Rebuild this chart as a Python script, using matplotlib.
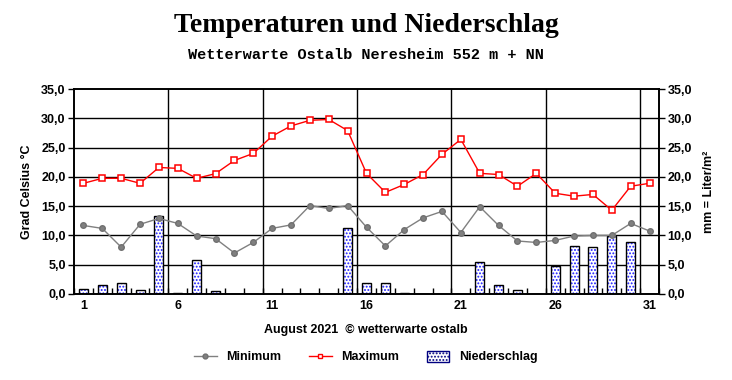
import numpy as np
import matplotlib
matplotlib.use("Agg")
import matplotlib.pyplot as plt
from matplotlib.ticker import FuncFormatter, FixedLocator
from matplotlib.patches import Patch
from matplotlib.lines import Line2D
from matplotlib.font_manager import FontProperties

# August 2021, Wetterwarte Ostalb
days = list(range(1, 32))
t_min = [11.7, 11.2, 8.0, 11.9, 12.9, 12.05, 9.9, 9.45, 7.0, 8.8,
         11.2, 11.8, 15.1, 14.6, 15.1, 11.4, 8.2, 11.0, 13.0, 14.1,
         10.5, 14.9, 11.7, 9.05, 8.8, 9.15, 9.9, 10.0, 10.0, 12.05, 10.75]
t_max = [18.9, 19.75, 19.75, 18.9, 21.6, 21.45, 19.75, 20.55, 22.8, 24.0,
         26.95, 28.7, 29.65, 29.8, 27.9, 20.6, 17.35, 18.7, 20.4, 23.85,
         26.4, 20.6, 20.4, 18.4, 20.6, 17.2, 16.7, 17.0, 14.3, 18.4, 18.9]
rain = [0.8, 1.6, 1.8, 0.6, 13.4, 0.25, 5.75, 0.45, 0.0, 0.0,
        0.0, 0.0, 0.0, 0.0, 11.2, 1.9, 1.9, 0.2, 0.0, 0.0,
        0.0, 5.4, 1.5, 0.6, 0.0, 4.8, 8.25, 8.0, 9.95, 8.9, 0.0]
xtick_days = [1, 6, 11, 16, 21, 26, 31]

bold = dict(family="Liberation Sans", weight="bold")
plt.rcParams["hatch.linewidth"] = 0.9

fig = plt.figure(figsize=(7.32, 3.80), dpi=100)
ax = fig.add_axes([74 / 732, 86 / 380, 585 / 732, 205 / 380])

fig.text(0.5, 1 - 26 / 380, "Temperaturen und Niederschlag", ha="center", va="center",
         fontsize=20, family="Liberation Serif", weight="bold")
fig.text(0.5, 1 - 55 / 380, "Wetterwarte Ostalb Neresheim 552 m + NN", ha="center", va="center",
         fontsize=11, family="Liberation Mono", weight="bold")

ax.set_xlim(0.5, 31.5)
ax.set_ylim(0, 35)

# grid
for y in range(5, 35, 5):
    ax.axhline(y, color="black", lw=1, zorder=1)
for x in np.arange(5.5, 31, 5):
    ax.axvline(x, color="black", lw=1, zorder=1)

# precipitation bars: blue dotted fill, black outline
ax.bar(days, rain, width=0.48, color="white", edgecolor="#1a1aff", hatch=".....",
       lw=0, zorder=2)
ax.bar(days, rain, width=0.48, color="none", edgecolor="black", lw=1, zorder=3)

ax.plot(days, t_min, color="#808080", lw=1, marker="o", ms=4,
        mfc="#808080", mec="#707070", zorder=4)
ax.plot(days, t_max, color="#ff0000", lw=1, marker="s", ms=3.8,
        mfc="white", mec="#ff0000", mew=1.1, zorder=5)

fmt = FuncFormatter(lambda v, p: f"{v:.1f}".replace(".", ","))
ax.set_yticks(range(0, 36, 5))
ax.yaxis.set_major_formatter(fmt)
ax.set_xticks(xtick_days)
ax.xaxis.set_minor_locator(FixedLocator(np.arange(0.5, 31.6, 1)))
ax.tick_params(axis="x", which="major", length=0, pad=4)
ax.tick_params(axis="x", which="minor", direction="in", length=4, width=1)
ax.tick_params(axis="y", length=4, width=1, pad=2)

ax2 = ax.twinx()
ax2.set_ylim(0, 35)
ax2.set_yticks(range(0, 36, 5))
ax2.yaxis.set_major_formatter(fmt)
ax2.tick_params(axis="y", length=4, width=1, pad=2)

for a in (ax, ax2):
    for s in a.spines.values():
        s.set_linewidth(1.2)
    for lab in a.get_xticklabels() + a.get_yticklabels():
        lab.set_fontproperties(FontProperties(size=9, **bold))

ax.set_ylabel("Grad Celsius °C", fontsize=9, labelpad=6, **bold)
ax2.set_ylabel("mm = Liter/m²", fontsize=9, labelpad=8, **bold)

fig.text(0.5, 1 - 330 / 380, "August 2021  © wetterwarte ostalb", ha="center", va="center",
         fontsize=9, **bold)

handles = [
    Line2D([], [], color="#808080", lw=1, marker="o", ms=3.5, mfc="#808080", mec="#707070"),
    Line2D([], [], color="#ff0000", lw=1, marker="s", ms=3.5, mfc="white", mec="#ff0000"),
    Patch(facecolor="white", edgecolor="#1a1aff", hatch=".....", lw=1),
]
leg = fig.legend(handles, ["Minimum", "Maximum", "Niederschlag"], loc="center",
                 bbox_to_anchor=(0.5, 1 - 357 / 380), ncol=3, frameon=False,
                 prop=FontProperties(size=9, **bold),
                 handlelength=1.8, handleheight=1.0, columnspacing=2.2, handletextpad=0.8)
leg.get_patches()[0].set_edgecolor("#000080")

fig.savefig("out.png", dpi=100)
